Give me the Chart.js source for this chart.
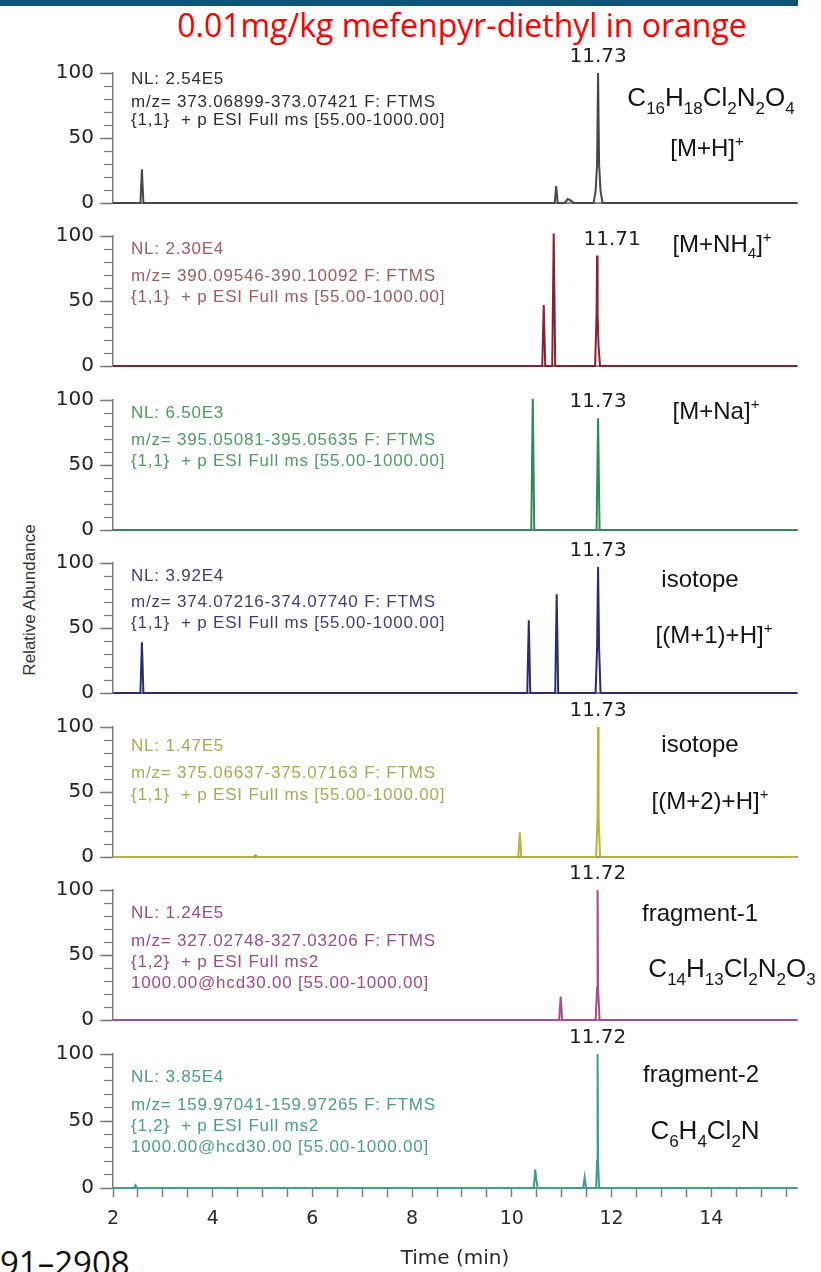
<!DOCTYPE html>
<html>
<head>
<meta charset="utf-8">
<script src="https://cdn.jsdelivr.net/npm/chart.js@4.4.1/dist/chart.umd.min.js"></script>
<style>
  html, body { margin: 0; padding: 0; background: #fff; }
  body { width: 821px; height: 1272px; position: relative; overflow: hidden; }
  #bar { position: absolute; left: 0; top: 0; width: 798px; height: 6px; background: #0f5572; }
  #title { position: absolute; left: 102px; width: 720px; top: 5px; line-height: 40px; text-align: center;
           font-family: "Open Sans", sans-serif; font-size: 32px; color: #ff0000; white-space: nowrap; }
  #ytitle { position: absolute; left: -80px; top: 590px; width: 220px; height: 20px; line-height: 20px;
            text-align: center; transform: rotate(-90deg); font-family: "Liberation Sans", sans-serif;
            font-size: 17px; color: #333; white-space: nowrap; }
  #pages { position: absolute; left: 0; top: 1243px; font-family: "Open Sans", sans-serif; font-size: 33px;
           line-height: 40px; color: #111; white-space: nowrap; }
  canvas { position: absolute; left: 0; }
</style>
</head>
<body>
<div id="bar"></div>
<div id="title">0.01mg/kg mefenpyr-diethyl in orange</div>
<div id="ytitle">Relative Abundance</div>
<div id="pages">91–2908</div>

<script>
// ---- axis ticks ----
const xTickLabels = [2, 4, 6, 8, 10, 12, 14];
const yTickLabels = [0, 50, 100];
const timeRange = [2, 15.72];

// ---- extracted ion chromatograms: retention time (min) / relative abundance (%) ----
const rt1 = [2.00, 2.55, 2.58, 2.61, 10.86, 10.89, 10.92, 11.06, 11.12, 11.18, 11.24, 11.64, 11.68, 11.71, 11.73, 11.75, 11.78, 11.82, 15.72];
const ab1 = [0, 0, 26, 0, 0, 13, 0, 0, 3, 2, 0, 0, 9, 30, 100, 30, 9, 0, 0];

const rt2 = [2.00, 10.61, 10.64, 10.67, 10.81, 10.84, 10.87, 11.67, 11.70, 11.71, 11.72, 11.74, 11.77, 15.72];
const ab2 = [0, 0, 47, 0, 0, 102, 0, 0, 40, 85, 40, 15, 0, 0];

const rt3 = [2.00, 10.39, 10.42, 10.45, 11.70, 11.73, 11.76, 15.72];
const ab3 = [0, 0, 101, 0, 0, 86, 0, 0];

const rt4 = [2.00, 2.55, 2.58, 2.61, 10.31, 10.34, 10.37, 10.87, 10.90, 10.93, 11.68, 11.71, 11.73, 11.75, 11.78, 15.72];
const ab4 = [0, 0, 39, 0, 0, 56, 0, 0, 76, 0, 0, 35, 97, 35, 0, 0];

const rt5 = [2.00, 4.82, 4.86, 4.90, 10.13, 10.16, 10.19, 11.69, 11.72, 11.73, 11.74, 11.77, 15.72];
const ab5 = [0, 0, 1.5, 0, 0, 19, 0, 0, 30, 100, 30, 0, 0];

const rt6 = [2.00, 10.95, 10.98, 11.01, 11.68, 11.71, 11.72, 11.73, 11.76, 15.72];
const ab6 = [0, 0, 18, 0, 0, 25, 100, 25, 0, 0];

const rt7 = [2.00, 2.42, 2.45, 2.48, 10.44, 10.47, 10.49, 10.52, 11.43, 11.46, 11.49, 11.69, 11.71, 11.72, 11.73, 11.75, 15.72];
const ab7 = [0, 0, 2, 0, 0, 14, 6, 0, 0, 8, 0, 0, 20, 100, 20, 0, 0];

// ---- labelled apex of each trace ----
const apexTimes = [11.73, 11.71, 11.73, 11.73, 11.73, 11.72, 11.72];

// ---- scan headers ----
const nlValues = ['2.54E5', '2.30E4', '6.50E3', '3.92E4', '1.47E5', '1.24E5', '3.85E4'];
const mzRanges = ['373.06899-373.07421', '390.09546-390.10092', '395.05081-395.05635',
                  '374.07216-374.07740', '375.06637-375.07163', '327.02748-327.03206',
                  '159.97041-159.97265'];
const scanFilters = [
  ['{1,1}  + p ESI Full ms [55.00-1000.00]'],
  ['{1,1}  + p ESI Full ms [55.00-1000.00]'],
  ['{1,1}  + p ESI Full ms [55.00-1000.00]'],
  ['{1,1}  + p ESI Full ms [55.00-1000.00]'],
  ['{1,1}  + p ESI Full ms [55.00-1000.00]'],
  ['{1,2}  + p ESI Full ms2', '1000.00@hcd30.00 [55.00-1000.00]'],
  ['{1,2}  + p ESI Full ms2', '1000.00@hcd30.00 [55.00-1000.00]']
];

// ---- ion labels (_{} subscript, ^{} superscript) ----
const ionLabels = [
  ['C_{16}H_{18}Cl_{2}N_{2}O_{4}', '[M+H]^{+}'],
  ['[M+NH_{4}]^{+}'],
  ['[M+Na]^{+}'],
  ['isotope', '[(M+1)+H]^{+}'],
  ['isotope', '[(M+2)+H]^{+}'],
  ['fragment-1', 'C_{14}H_{13}Cl_{2}N_{2}O_{3}'],
  ['fragment-2', 'C_{6}H_{4}Cl_{2}N']
];

// ---- styling ----
const traceColors = ['#474747', '#8e1f30', '#2f8a55', '#2b2d6e', '#b4b43c', '#ad4a8e', '#3c9e8e'];
const noteColors  = ['#2e2e2e', '#9c5d5d', '#4f9b60', '#3d3f7c', '#a9a955', '#9a4b88', '#4d9c8f'];
// first text line offset and spacing below the 100 % line
const noteLayout = [[6, 23, 18], [13, 27, 21], [13, 27, 21], [13, 26, 21], [19, 27, 22], [23, 28, 21], [23, 28, 21]];
// ion label centres: [x, dy] per line
const ionLayout = [
  [[711, 24], [707, 74]],
  [[722, 7]],
  [[716, 10]],
  [[700, 15], [714, 71]],
  [[700, 16], [710, 73]],
  [[700, 22], [732, 78]],
  [[701, 19], [705, 76]]
];
const apexLabelShift = [0, 15, 0, 0, 0, 0, 0];

const series = [[rt1, ab1], [rt2, ab2], [rt3, ab3], [rt4, ab4], [rt5, ab5], [rt6, ab6], [rt7, ab7]];

const FIRST_TOP = 73, PANEL_STEP = 163.5, PLOT_H = 134, PAD_TOP = 40, PAD_BOTTOM = 14, XAXIS_H = 84;
const AXIS_GREY = '#7d7d7d';

function drawRich(ctx, spec, cx, cy, size, color) {
  const parts = [];
  const re = /([_^])\{([^}]*)\}|([^_^]+)/g;
  let m;
  while ((m = re.exec(spec))) {
    if (m[1]) parts.push({ text: m[2], kind: m[1] === '_' ? 'sub' : 'sup' });
    else parts.push({ text: m[3], kind: 'base' });
  }
  const small = Math.round(size * 0.64);
  const fontOf = k => (k === 'base' ? size : small) + 'px "Liberation Sans"';
  let w = 0;
  parts.forEach(p => { ctx.font = fontOf(p.kind); p.w = ctx.measureText(p.text).width; w += p.w; });
  let x = cx - w / 2;
  ctx.fillStyle = color;
  ctx.textAlign = 'left';
  ctx.textBaseline = 'alphabetic';
  const base = cy + size * 0.36;
  parts.forEach(p => {
    ctx.font = fontOf(p.kind);
    const dy = p.kind === 'sub' ? size * 0.28 : p.kind === 'sup' ? -size * 0.42 : 0;
    ctx.fillText(p.text, x, base + dy);
    x += p.w;
  });
}

const panelText = {
  id: 'panelText',
  afterDatasetsDraw(chart, args, o) {
    const { ctx, chartArea, scales } = chart;
    const top = chartArea.top;
    ctx.save();
    // scan header
    ctx.font = '17px "Liberation Sans"';
    ctx.letterSpacing = '0.8px';
    ctx.fillStyle = o.noteColor;
    ctx.textAlign = 'left';
    ctx.textBaseline = 'middle';
    const lines = ['NL: ' + o.nl, 'm/z= ' + o.mz + ' F: FTMS'].concat(o.filters);
    let y = top + o.noteLayout[0];
    lines.forEach((s, k) => {
      if (k === 1) y += o.noteLayout[1];
      else if (k > 1) y += o.noteLayout[2];
      ctx.fillText(s, 131, y);
    });
    ctx.letterSpacing = '0px';
    // ion labels
    o.ions.forEach((spec, k) => {
      const [cx, dy] = o.ionLayout[k];
      const isFormula = /^C_/.test(spec);
      drawRich(ctx, spec, cx, top + dy, isFormula ? 26 : 24, '#141414');
    });
    // apex retention time
    const data = chart.data.datasets[0].data;
    const apex = data.find(p => p.x === o.apex);
    const px = scales.x.getPixelForValue(o.apex) + o.apexShift;
    const py = scales.y.getPixelForValue(apex.y) - 16;
    ctx.font = '20px "DejaVu Sans"';
    ctx.fillStyle = '#1e1e1e';
    ctx.textAlign = 'center';
    ctx.textBaseline = 'middle';
    ctx.fillText(o.apex.toFixed(2), px, py);
    ctx.restore();
  }
};

series.forEach(([rt, ab], i) => {
  const last = i === series.length - 1;
  const y100 = Math.floor(FIRST_TOP + PANEL_STEP * i);
  const canvas = document.createElement('canvas');
  canvas.width = 821;
  canvas.height = PAD_TOP + PLOT_H + (last ? XAXIS_H : PAD_BOTTOM);
  canvas.style.top = (y100 - PAD_TOP) + 'px';
  document.body.appendChild(canvas);

  new Chart(canvas, {
    type: 'line',
    data: {
      datasets: [{
        data: rt.map((t, k) => ({ x: t, y: ab[k] })),
        borderColor: traceColors[i],
        borderWidth: 2,
        pointRadius: 0,
        tension: 0,
        fill: false,
        clip: false
      }]
    },
    options: {
      responsive: false,
      animation: false,
      events: [],
      layout: { padding: { top: PAD_TOP, left: 0, right: 24, bottom: last ? 0 : PAD_BOTTOM } },
      plugins: {
        legend: { display: false },
        tooltip: { enabled: false },
        panelText: {
          nl: nlValues[i], mz: mzRanges[i], filters: scanFilters[i],
          noteColor: noteColors[i], noteLayout: noteLayout[i],
          ions: ionLabels[i], ionLayout: ionLayout[i],
          apex: apexTimes[i], apexShift: apexLabelShift[i]
        }
      },
      scales: {
        x: {
          type: 'linear',
          min: timeRange[0],
          max: timeRange[1],
          afterFit: s => { s.height = last ? XAXIS_H : 0; },
          ticks: {
            display: last,
            stepSize: 0.5,
            includeBounds: false,
            autoSkip: false,
            maxRotation: 0,
            padding: 11,
            color: '#2a2a2a',
            font: { family: 'DejaVu Sans', size: 19 },
            callback: v => (xTickLabels.includes(v) ? String(v) : '')
          },
          grid: { display: last, drawOnChartArea: false, tickLength: 9, color: AXIS_GREY, tickWidth: 1.5 },
          border: { display: true, color: '#8a8a8a', width: 2 },
          title: {
            display: last,
            text: 'Time (min)',
            color: '#2a2a2a',
            font: { family: 'DejaVu Sans', size: 20 },
            padding: { top: 0, bottom: 1 }
          }
        },
        y: {
          position: 'left',
          weight: 1,
          min: 0,
          max: 100,
          afterFit: s => { s.width = 113; },
          ticks: {
            stepSize: 50,
            padding: 6,
            color: '#222',
            font: { family: 'DejaVu Sans', size: 20 },
            callback: v => (yTickLabels.includes(v) ? String(v) : '')
          },
          grid: { drawOnChartArea: false, tickLength: 13, color: AXIS_GREY, tickWidth: 1.5 },
          border: { display: true, color: AXIS_GREY, width: 1.5 }
        },
        yMinor: {
          position: 'left',
          weight: 0,
          min: 0,
          max: 100,
          afterFit: s => { s.width = 0; },
          ticks: { display: false, stepSize: 10 },
          grid: { drawOnChartArea: false, tickLength: 9, color: AXIS_GREY, tickWidth: 1.2 },
          border: { display: false }
        }
      }
    },
    plugins: [panelText]
  });
});
</script>
</body>
</html>
